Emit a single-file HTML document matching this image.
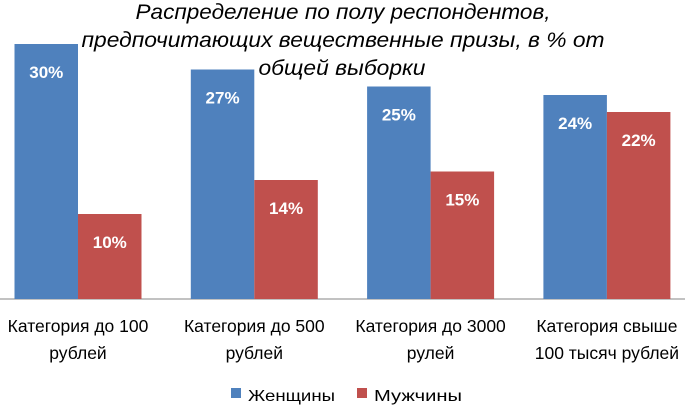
<!DOCTYPE html>
<html><head><meta charset="utf-8"><style>
html,body{margin:0;padding:0;background:#fff}
svg{display:block;font-family:"Liberation Sans","DejaVu Sans",sans-serif}
</style></head><body>
<svg id="chart" width="685" height="405" viewBox="0 0 685 405" xmlns="http://www.w3.org/2000/svg">
<line x1="0" y1="299" x2="685" y2="299" stroke="#868686" stroke-width="1"/>
<g id="bars"></g>
<g id="cats"></g>
<g font-style="italic" font-size="21" fill="#000" text-anchor="middle">
<text x="343" y="19" textLength="415" lengthAdjust="spacingAndGlyphs">Распределение по полу респондентов,</text>
<text x="343" y="47" textLength="523" lengthAdjust="spacingAndGlyphs">предпочитающих вещественные призы, в % от</text>
<text x="342" y="75" textLength="167" lengthAdjust="spacingAndGlyphs">общей выборки</text>
</g>
<g font-size="16">
<g><rect x="231" y="388" width="10" height="10" fill="#4f81bd"/><text x="248" y="401" textLength="87" lengthAdjust="spacingAndGlyphs">Женщины</text></g>
<g><rect x="357" y="388" width="10" height="10" fill="#c0504d"/><text x="374" y="401" textLength="88" lengthAdjust="spacingAndGlyphs">Мужчины</text></g>
</g>
</svg>
<script>
const categories=[["Категория до 100","рублей"],["Категория до 500","рублей"],["Категория до 3000","рулей"],["Категория свыше","100 тысяч рублей"]];
const women=[30,27,25,24];
const men=[10,14,15,22];
const valueLabels=["%"];
const NS="http://www.w3.org/2000/svg";
const base=299, pxPer=8.5, step=176.3, firstCenter=78, bw=63.5;
const y=v=>base-v*pxPer;
const cx=i=>firstCenter+i*step;
const bars=document.getElementById('bars'), cats=document.getElementById('cats');
function mk(tag,attrs){const e=document.createElementNS(NS,tag);for(const k in attrs)e.setAttribute(k,attrs[k]);return e;}
[[women,"#4f81bd",-1,"women"],[men,"#c0504d",0,"men"]].forEach(([arr,col,off,nm])=>{
  arr.forEach((v,i)=>{
    const x=cx(i)+off*bw;
    const r=mk('rect',{x:x,y:y(v),width:bw,height:base-y(v),fill:col});
    
    
    bars.appendChild(r);
    const t=mk('text',{x:x+bw/2,y:y(v)+34,'text-anchor':'middle','font-weight':'bold','font-size':'17',fill:'#fff'});
    
    
    t.textContent=v+valueLabels[0];
    bars.appendChild(t);
  });
});
categories.forEach((c,i)=>{
  c.forEach((line,j)=>{
    const t=mk('text',{x:cx(i),y:332+j*27,'text-anchor':'middle','font-size':'17.5',fill:'#000'});
    
    
    t.textContent=line;
    cats.appendChild(t);
  });
});
</script>
</body></html>
